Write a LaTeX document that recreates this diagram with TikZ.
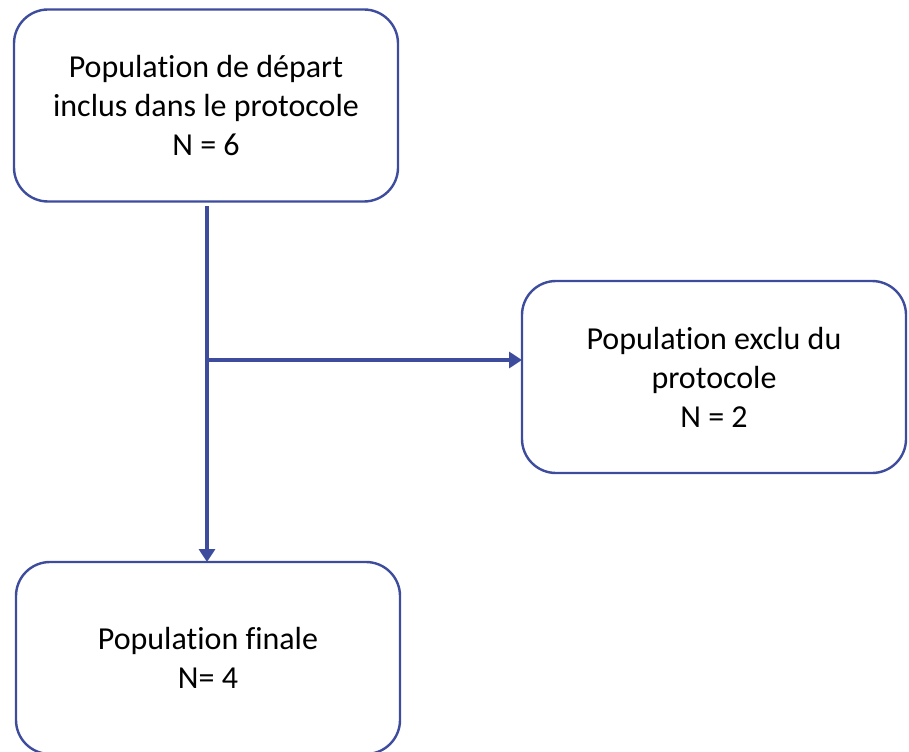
\documentclass[tikz,border=0pt]{standalone}
\usepackage{fontspec}
\setmainfont[Ligatures=NoCommon]{Carlito}
\usetikzlibrary{arrows.meta}
\definecolor{boxblue}{RGB}{62,76,158}

\begin{document}
\begin{tikzpicture}[x=0.5pt, y=0.5pt,
	box/.style={draw=boxblue, line width=1.2pt, rounded corners=17pt, fill=white, minimum width=192pt, minimum height=96pt, inner sep=0pt, outer sep=0pt, align=center, font=\fontsize{16}{19.5}\selectfont},
	flow/.style={draw=boxblue, line width=2.3pt, -{Triangle[length=6.5pt, width=8pt]}}]
			\useasboundingbox (0,0) rectangle (909,751);
			\draw (206,645.5) node [box] (v0) {Population de départ\\inclus dans le protocole\\N = 6};
			\draw (714,374) node [box] (v1) {Population exclu du\\protocole\\N = 2};
			\draw (208,93) node [box] (v2) {Population finale\\N= 4};
			\coordinate (split) at (207,391);
			\path[flow, shorten <=2.5pt] ([xshift=0.5pt]v0.south) -- ([xshift=0.5pt]v0.south |- v2.north);
			\path[flow, shorten <=-1pt] (split) -- (split -| v1.west);
		\end{tikzpicture}
\end{document}
